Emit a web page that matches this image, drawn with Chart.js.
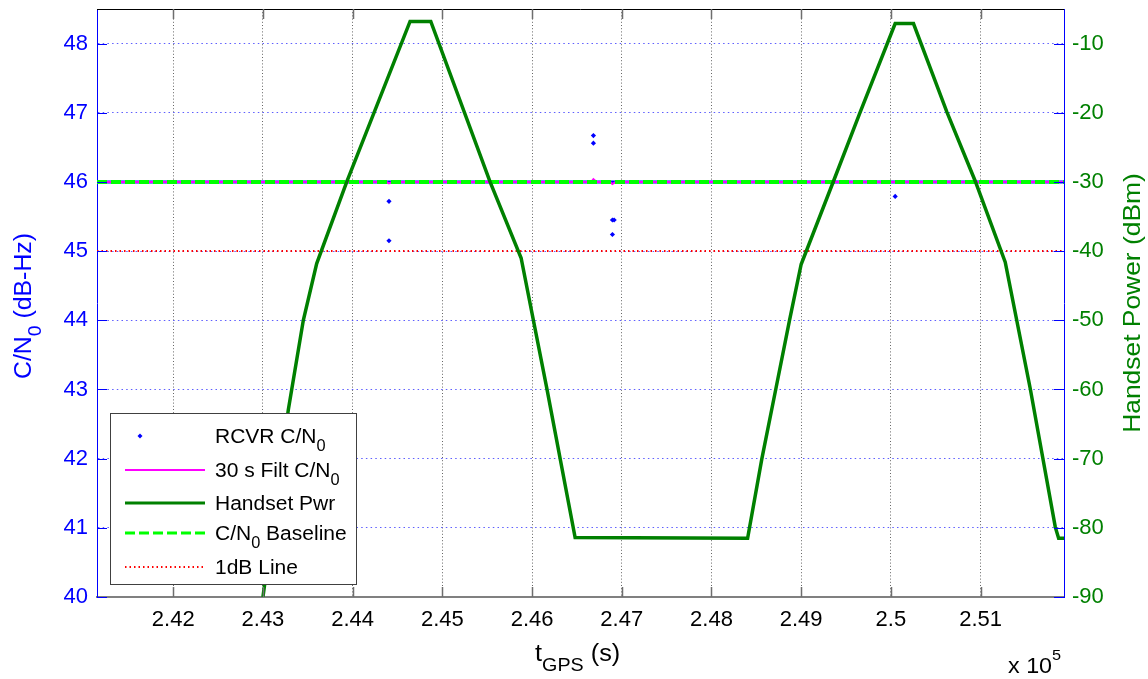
<!DOCTYPE html>
<html><head><meta charset="utf-8">
<script src="https://cdn.jsdelivr.net/npm/chart.js@4/dist/chart.umd.min.js"></script>
<style>html,body{margin:0;padding:0;background:#fff;}#wrap{width:1148px;height:679px;position:relative;}</style>
</head><body><div id="wrap"><canvas id="c" width="1148" height="679"></canvas></div>
<script>
// ---------------- data ----------------
const timeRange = [241150, 251930];
const xTickValues = [242000, 243000, 244000, 245000, 246000, 247000, 248000, 249000, 250000, 251000];
const xTickLabels = ['2.42', '2.43', '2.44', '2.45', '2.46', '2.47', '2.48', '2.49', '2.5', '2.51'];
const cn0Range = [40, 48.5];
const cn0TickValues = [40, 41, 42, 43, 44, 45, 46, 47, 48];
const powerRange = [-90, -5];
const powerTickValues = [-90, -80, -70, -60, -50, -40, -30, -20, -10];

const handsetTime = [243000, 243282, 243450, 243599, 243934, 244640, 244871, 245532, 245878, 246164, 246480,
  248403, 248562, 248718, 248870, 249000, 249360, 249658, 250048, 250252, 250625, 250941, 251275, 251554, 251833, 251870, 251933];
const handsetPower = [-90, -63, -50, -41.8, -30, -6.8, -6.8, -30, -41, -59.8, -81.4,
  -81.5, -70, -59.9, -50, -41.9, -29.9, -19.9, -7.1, -7.1, -19.9, -29.9, -41.6, -59.9, -79.9, -81.5, -81.5];

const rcvrTime = [244405, 244405, 246684, 246684, 246896, 246915, 246896, 250048];
const rcvrCN0 = [45.72, 45.15, 46.67, 46.56, 45.45, 45.45, 45.24, 45.79];
const rcvrNominalTime = [241150, 251930];
const rcvrNominalCN0 = [46, 46];

const filtTime = [241150, 244380, 244405, 244440, 246660, 246684, 246720, 246870, 246896, 246930, 251930];
const filtCN0 = [46, 46, 45.98, 46, 46, 46.04, 46, 46, 45.97, 46, 46];

const baselineTime = [241150, 251930];
const baselineCN0 = [46, 46];
const oneDbTime = [241150, 251930];
const oneDbCN0 = [45, 45];

const legendLabels = ['RCVR C/N0', '30 s Filt C/N0', 'Handset Pwr', 'C/N0 Baseline', '1dB Line'];

// ---------------- helpers ----------------
const pts = (xs, ys) => xs.map((x, i) => ({x: x, y: ys[i]}));
const FONT = '"Liberation Sans", Arial, Helvetica, sans-serif';
const BLUE = '#0000ff', DKGREEN = '#008000', LIME = '#00ff00', MAG = '#ff00ff', RED = '#ff0000';

function richParts(label) {
  const parts = [];
  const idx = label.indexOf('C/N0');
  if (idx < 0) return [{t: label}];
  if (idx > 0) parts.push({t: label.slice(0, idx)});
  parts.push({t: 'C/N'}); parts.push({t: '0', sub: true});
  const rest = label.slice(idx + 4);
  if (rest) parts.push({t: rest});
  return parts;
}
function measureRich(ctx, parts, size) {
  let w = 0;
  for (const p of parts) {
    const s = p.sub ? size * 0.78 : (p.sup ? size * 0.7 : size);
    ctx.font = s + 'px ' + FONT;
    w += ctx.measureText(p.t).width;
  }
  return w;
}
function drawRich(ctx, parts, size, color, sx, align) {
  ctx.save();
  ctx.scale(sx, 1);
  ctx.fillStyle = color;
  ctx.textBaseline = 'alphabetic';
  ctx.textAlign = 'left';
  let x = 0;
  if (align === 'center') x = -measureRich(ctx, parts, size) / 2;
  for (const p of parts) {
    const s = p.sub ? size * 0.78 : (p.sup ? size * 0.7 : size);
    const dy = p.sub ? size * 0.42 : (p.sup ? -size * 0.6 : 0);
    ctx.font = s + 'px ' + FONT;
    ctx.fillText(p.t, x, dy);
    x += ctx.measureText(p.t).width;
  }
  ctx.restore();
}

const decor = {
  id: 'decor',
  afterDraw(chart) {
    const ctx = chart.ctx;
    const a = chart.chartArea;
    const xs = chart.scales.x, yl = chart.scales.yL, yr = chart.scales.yR;
    ctx.save();
    // top border
    ctx.strokeStyle = '#000'; ctx.lineWidth = 1;
    ctx.beginPath(); ctx.moveTo(a.left, a.top + 0.5); ctx.lineTo(a.right, a.top + 0.5); ctx.stroke();
    // x tick marks (bottom and top), inward
    ctx.strokeStyle = '#6e6e6e'; ctx.lineWidth = 1.5;
    for (const t of xs.ticks) {
      const px = Math.round(xs.getPixelForValue(t.value)) + 0.5;
      ctx.beginPath(); ctx.moveTo(px, a.bottom); ctx.lineTo(px, a.bottom - 10); ctx.stroke();
      ctx.beginPath(); ctx.moveTo(px, a.top); ctx.lineTo(px, a.top + 10); ctx.stroke();
    }
    // y tick marks
    ctx.strokeStyle = BLUE; ctx.lineWidth = 1;
    for (const t of yl.ticks) {
      const py = Math.round(yl.getPixelForValue(t.value)) + 0.5;
      ctx.beginPath(); ctx.moveTo(a.left, py); ctx.lineTo(a.left + 10, py); ctx.stroke();
    }
    for (const t of yr.ticks) {
      const py = Math.round(yr.getPixelForValue(t.value)) + 0.5;
      ctx.beginPath(); ctx.moveTo(a.right, py); ctx.lineTo(a.right - 10, py); ctx.stroke();
    }
    // legend box
    const L = {x: 110, y: 413, w: 246, h: 171};
    ctx.fillStyle = '#fff';
    ctx.fillRect(L.x, L.y, L.w, L.h);
    ctx.strokeStyle = '#404040'; ctx.lineWidth = 1;
    ctx.strokeRect(L.x + 0.5, L.y + 0.5, L.w, L.h);
    const rowY = [436, 470, 503, 533, 567];
    const sx0 = 125, sx1 = 205, tx = 215;
    const ds = chart.data.datasets;
    const order = [1, 4, 0, 2, 3];
    order.forEach((di, i) => {
      const d = ds[di];
      const y = rowY[i];
      if (i === 0) {
        ctx.fillStyle = BLUE;
        ctx.beginPath();
        ctx.moveTo(140, y - 2.5); ctx.lineTo(142.5, y); ctx.lineTo(140, y + 2.5); ctx.lineTo(137.5, y); ctx.closePath();
        ctx.fill();
      } else {
        ctx.save();
        ctx.strokeStyle = d.borderColor; ctx.lineWidth = Math.min(d.borderWidth, 3);
        ctx.setLineDash(d.borderDash || []);
        ctx.beginPath(); ctx.moveTo(sx0, y); ctx.lineTo(sx1, y); ctx.stroke();
        ctx.restore();
      }
      ctx.save(); ctx.translate(tx, y + 7);
      drawRich(ctx, richParts(legendLabels[i]), 20, '#000', 1.05, 'left');
      ctx.restore();
    });
    // left axis title
    ctx.save(); ctx.translate(31, 306); ctx.rotate(-Math.PI / 2);
    drawRich(ctx, [{t: 'C/N'}, {t: '0', sub: true}, {t: ' (dB-Hz)'}], 23, BLUE, 1.08, 'center');
    ctx.restore();
    // right axis title
    ctx.save(); ctx.translate(1140, 303); ctx.rotate(-Math.PI / 2);
    drawRich(ctx, [{t: 'Handset Power (dBm)'}], 24, DKGREEN, 1.1, 'center');
    ctx.restore();
    // x axis title
    ctx.save(); ctx.translate(535, 661);
    drawRich(ctx, [{t: 't'}, {t: 'GPS', sub: true}, {t: ' (s)'}], 23, '#000', 1.1, 'left');
    ctx.restore();
    // exponent
    ctx.save(); ctx.translate(1008, 673);
    drawRich(ctx, [{t: 'x 10'}, {t: '5', sup: true}], 22, '#000', 1.06, 'left');
    ctx.restore();
    ctx.restore();
  }
};

const tickFont = {family: FONT, size: 22};

new Chart(document.getElementById('c'), {
  type: 'scatter',
  data: {
    datasets: [
      { label: 'Handset Pwr', data: pts(handsetTime, handsetPower), yAxisID: 'yR', showLine: true,
        borderColor: DKGREEN, borderWidth: 3.5, pointRadius: 0, order: 0 },
      { label: 'RCVR C/N0', data: pts(rcvrTime, rcvrCN0), yAxisID: 'yL', showLine: false,
        pointStyle: 'rectRot', pointRadius: 2.6, backgroundColor: BLUE, borderColor: BLUE, borderWidth: 0, order: -1 },
      { label: 'C/N0 Baseline', data: pts(baselineTime, baselineCN0), yAxisID: 'yL', showLine: true,
        borderColor: LIME, borderWidth: 4, borderDash: [10, 4], pointRadius: 0, order: 1 },
      { label: '1dB Line', data: pts(oneDbTime, oneDbCN0), yAxisID: 'yL', showLine: true,
        borderColor: RED, borderWidth: 2, borderDash: [1.5, 3], pointRadius: 0, order: 2 },
      { label: '30 s Filt C/N0', data: pts(filtTime, filtCN0), yAxisID: 'yL', showLine: true,
        borderColor: MAG, borderWidth: 2, pointRadius: 0, order: 3 },
      { label: 'RCVR C/N0 (nominal samples)', data: pts(rcvrNominalTime, rcvrNominalCN0), yAxisID: 'yL', showLine: true,
        borderColor: BLUE, borderWidth: 3, pointRadius: 0, order: 4 }
    ]
  },
  options: {
    responsive: false, animation: false, devicePixelRatio: 1,
    layout: {padding: {top: 9, left: 0, right: 0, bottom: 0}},
    plugins: {legend: {display: false}, tooltip: {enabled: false}, title: {display: false}},
    scales: {
      x: {
        type: 'linear', position: 'bottom', min: timeRange[0], max: timeRange[1],
        afterBuildTicks: s => { s.ticks = xTickValues.map(v => ({value: v})); },
        afterFit: s => { s.height = 82; s.paddingLeft = 0; s.paddingRight = 0; },
        ticks: { font: tickFont, color: '#000', padding: 10, maxRotation: 0, autoSkip: false,
          callback: (v) => { const i = xTickValues.indexOf(v); return i >= 0 ? xTickLabels[i] : ''; } },
        grid: { color: '#666', lineWidth: 1, drawTicks: false },
        border: { display: true, color: '#808080', width: 2, dash: [1, 2.2] }
      },
      yL: {
        type: 'linear', position: 'left', min: cn0Range[0], max: cn0Range[1],
        afterBuildTicks: s => { s.ticks = cn0TickValues.map(v => ({value: v})); },
        afterFit: s => { s.width = 97; s.paddingTop = 0; s.paddingBottom = 0; },
        ticks: { font: tickFont, color: BLUE, padding: 9, callback: v => String(v) },
        grid: { color: 'rgba(40,40,255,0.75)', lineWidth: 1, drawTicks: false },
        border: { display: true, color: BLUE, width: 1, dash: [1.5, 3.2] }
      },
      yR: {
        type: 'linear', position: 'right', min: powerRange[0], max: powerRange[1],
        afterBuildTicks: s => { s.ticks = powerTickValues.map(v => ({value: v})); },
        afterFit: s => { s.width = 84; s.paddingTop = 0; s.paddingBottom = 0; },
        ticks: { font: tickFont, color: DKGREEN, padding: 8, callback: v => String(v) },
        grid: { display: false, drawOnChartArea: false, drawTicks: false },
        border: { display: true, color: BLUE, width: 1 }
      }
    }
  },
  plugins: [decor]
});
</script>
</body></html>
